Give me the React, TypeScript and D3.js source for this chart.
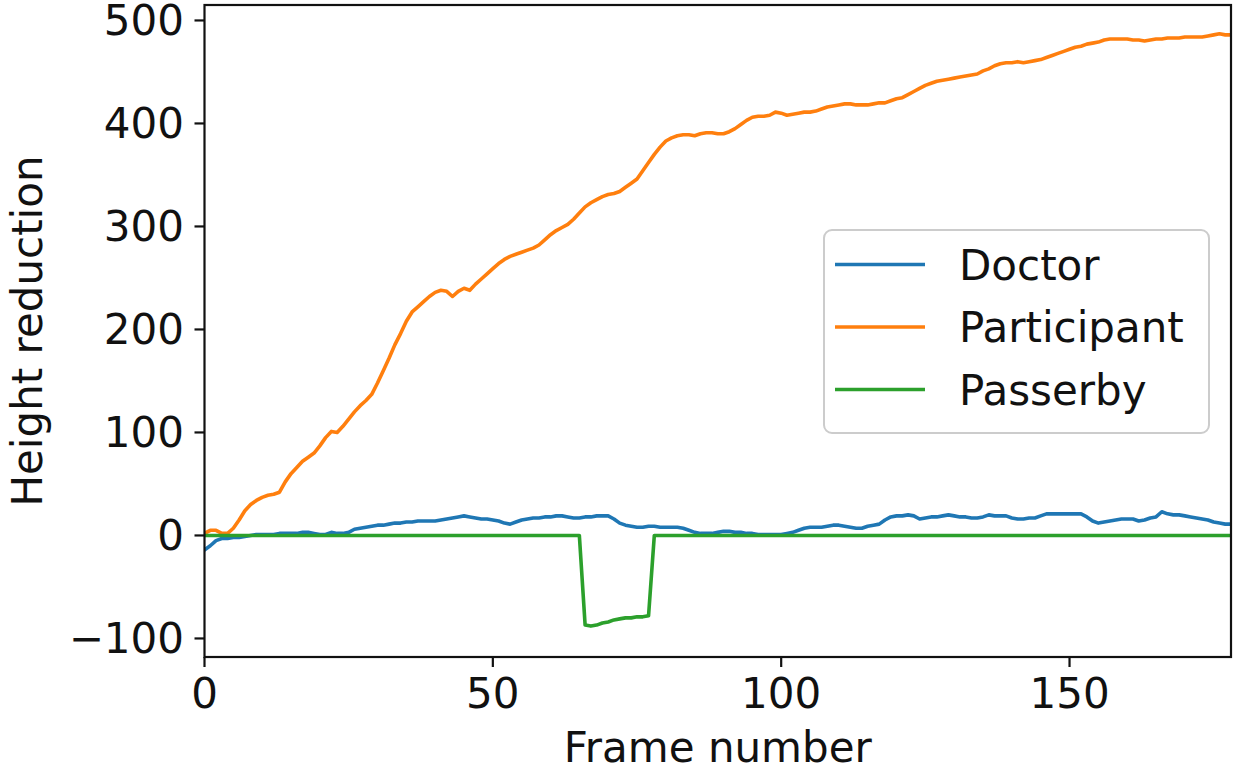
import React from "react";
import * as d3 from "d3";

const frames: number[] = Array.from({ length: 179 }, (_, i) => i);

const doctor: number[] = [
  -14, -10, -5, -3, -3, -2, -2, -1, 0, 1,
  1, 1, 1, 2, 2, 2, 2, 3, 3, 2,
  1, 1, 3, 2, 2, 3, 6, 7, 8, 9,
  10, 10, 11, 12, 12, 13, 13, 14, 14, 14,
  14, 15, 16, 17, 18, 19, 18, 17, 16, 16,
  15, 14, 12, 11, 13, 15, 16, 17, 17, 18,
  18, 19, 19, 18, 17, 17, 18, 18, 19, 19,
  19, 16, 12, 10, 9, 8, 8, 9, 9, 8,
  8, 8, 8, 7, 5, 3, 2, 2, 2, 3,
  4, 4, 3, 3, 2, 2, 1, 1, 1, 1,
  1, 2, 3, 5, 7, 8, 8, 8, 9, 10,
  10, 9, 8, 7, 7, 9, 10, 11, 15, 18,
  19, 19, 20, 19, 16, 17, 18, 18, 19, 20,
  19, 18, 18, 17, 17, 18, 20, 19, 19, 19,
  17, 16, 16, 17, 17, 19, 21, 21, 21, 21,
  21, 21, 21, 18, 14, 12, 13, 14, 15, 16,
  16, 16, 14, 15, 17, 18, 23, 21, 20, 20,
  19, 18, 17, 16, 15, 13, 12, 11, 11,
];

const participant: number[] = [
  2, 5, 5, 2, 2, 7, 15, 24, 30, 34,
  37, 39, 40, 42, 52, 60, 66, 72, 76, 80,
  87, 95, 101, 100, 106, 113, 120, 126, 131, 137,
  148, 160, 172, 185, 196, 208, 217, 222, 227, 232,
  236, 238, 237, 232, 237, 240, 238, 244, 249, 254,
  259, 264, 268, 271, 273, 275, 277, 279, 282, 287,
  292, 296, 299, 302, 307, 313, 319, 323, 326, 329,
  331, 332, 334, 338, 342, 346, 354, 362, 370, 377,
  383, 386, 388, 389, 389, 388, 390, 391, 391, 390,
  390, 392, 395, 399, 403, 406, 407, 407, 408, 411,
  410, 408, 409, 410, 411, 411, 412, 414, 416, 417,
  418, 419, 419, 418, 418, 418, 419, 420, 420, 422,
  424, 425, 428, 431, 434, 437, 439, 441, 442, 443,
  444, 445, 446, 447, 448, 451, 453, 456, 458, 459,
  459, 460, 459, 460, 461, 462, 464, 466, 468, 470,
  472, 474, 475, 477, 478, 479, 481, 482, 482, 482,
  482, 481, 481, 480, 481, 482, 482, 483, 483, 483,
  484, 484, 484, 484, 485, 486, 487, 486, 486,
];

const passerby: number[] = [
  0, 0, 0, 0, 0, 0, 0, 0, 0, 0,
  0, 0, 0, 0, 0, 0, 0, 0, 0, 0,
  0, 0, 0, 0, 0, 0, 0, 0, 0, 0,
  0, 0, 0, 0, 0, 0, 0, 0, 0, 0,
  0, 0, 0, 0, 0, 0, 0, 0, 0, 0,
  0, 0, 0, 0, 0, 0, 0, 0, 0, 0,
  0, 0, 0, 0, 0, 0, -87, -88, -87, -85,
  -84, -82, -81, -80, -80, -79, -79, -78, 0, 0,
  0, 0, 0, 0, 0, 0, 0, 0, 0, 0,
  0, 0, 0, 0, 0, 0, 0, 0, 0, 0,
  0, 0, 0, 0, 0, 0, 0, 0, 0, 0,
  0, 0, 0, 0, 0, 0, 0, 0, 0, 0,
  0, 0, 0, 0, 0, 0, 0, 0, 0, 0,
  0, 0, 0, 0, 0, 0, 0, 0, 0, 0,
  0, 0, 0, 0, 0, 0, 0, 0, 0, 0,
  0, 0, 0, 0, 0, 0, 0, 0, 0, 0,
  0, 0, 0, 0, 0, 0, 0, 0, 0, 0,
  0, 0, 0, 0, 0, 0, 0, 0, 0,
];

const seriesNames = ["Doctor", "Participant", "Passerby"];
const seriesColors = ["#1f77b4", "#ff7f0e", "#2ca02c"];
const xTicks = [0, 50, 100, 150];
const yTicks = [-100, 0, 100, 200, 300, 400, 500];

const W = 1238;
const H = 768;
const left = 204.5;
const right = 1231;
const top = 5;
const bottom = 657;
const FONT = "DejaVu Sans, sans-serif";
const FS = 42;

export default function App() {
  const x = d3.scaleLinear().domain([0, 178]).range([left, right]);
  const y = d3.scaleLinear().domain([-118, 515]).range([bottom, top]);
  const seriesData = [doctor, participant, passerby];
  const line = d3
    .line<number>()
    .x((_, i) => x(frames[i]))
    .y((d) => y(d));

  const legendX = 824;
  const legendY = 230;
  const legendW = 385;
  const legendH = 203;
  const legendRows = [264.5, 327, 389.5];

  return (
    <svg
      width={W}
      height={H}
      style={{ position: "absolute", left: 0, top: 0, background: "#fff" }}
      fontFamily={FONT}
    >
      <rect x={0} y={0} width={W} height={H} fill="#fff" />
      <defs>
        <clipPath id="plotclip">
          <rect x={left} y={top} width={right - left} height={bottom - top} />
        </clipPath>
      </defs>
      <g clipPath="url(#plotclip)">
        {seriesData.map((s, k) => (
          <path
            key={seriesNames[k]}
            d={line(s) || ""}
            fill="none"
            stroke={seriesColors[k]}
            strokeWidth={3.6}
            strokeLinejoin="round"
            strokeLinecap="square"
          />
        ))}
      </g>
      {/* spines */}
      <rect
        x={left}
        y={top}
        width={right - left}
        height={bottom - top}
        fill="none"
        stroke="#111"
        strokeWidth={2.2}
      />
      {/* x ticks */}
      {xTicks.map((t) => (
        <g key={"x" + t}>
          <line x1={x(t)} x2={x(t)} y1={bottom} y2={bottom + 10} stroke="#111" strokeWidth={2.2} />
          <text x={x(t)} y={708} textAnchor="middle" fontSize={FS} fill="#111">
            {t < 0 ? "\u2212" + Math.abs(t) : String(t)}
          </text>
        </g>
      ))}
      {/* y ticks */}
      {yTicks.map((t) => (
        <g key={"y" + t}>
          <line x1={left - 10} x2={left} y1={y(t)} y2={y(t)} stroke="#111" strokeWidth={2.2} />
          <text x={184} y={y(t) + 15} textAnchor="end" fontSize={FS} fill="#111">
            {t < 0 ? "\u2212" + Math.abs(t) : String(t)}
          </text>
        </g>
      ))}
      {/* axis labels */}
      <text x={(left + right) / 2} y={762} textAnchor="middle" fontSize={FS} fill="#111">
        Frame number
      </text>
      <text
        transform={`translate(42, ${(top + bottom) / 2}) rotate(-90)`}
        textAnchor="middle"
        fontSize={FS}
        fill="#111"
      >
        Height reduction
      </text>
      {/* legend */}
      <rect
        x={legendX}
        y={legendY}
        width={legendW}
        height={legendH}
        rx={8}
        ry={8}
        fill="#fff"
        fillOpacity={0.8}
        stroke="#ccc"
        strokeWidth={2}
      />
      {seriesNames.map((n, k) => (
        <g key={"leg" + n}>
          <line
            x1={835}
            x2={925}
            y1={legendRows[k]}
            y2={legendRows[k]}
            stroke={seriesColors[k]}
            strokeWidth={3.6}
          />
          <text x={959} y={legendRows[k] + 15} fontSize={FS} fill="#111">
            {n}
          </text>
        </g>
      ))}
    </svg>
  );
}
